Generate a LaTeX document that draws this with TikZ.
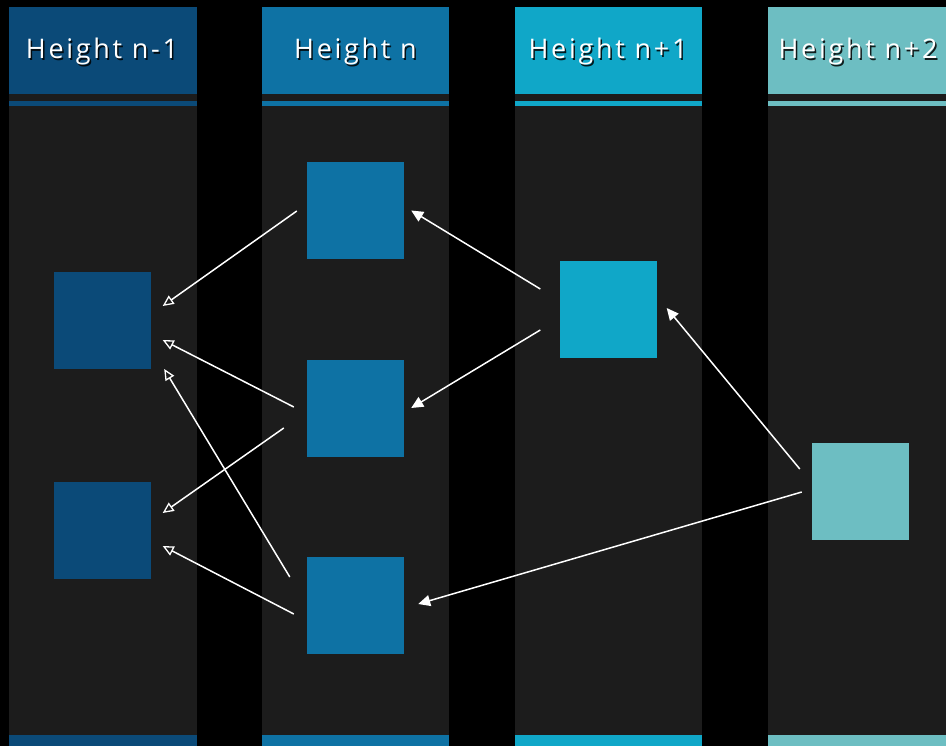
\documentclass[tikz,border=0pt]{standalone}
\usepackage{fontspec}
\setmainfont{Open Sans}
\newfontfamily\headfont[LetterSpace=10]{Open Sans}
\usetikzlibrary{arrows.meta}
\definecolor{bgblack}{HTML}{000000}
\definecolor{lanebody}{HTML}{1C1C1C}
\definecolor{hA}{HTML}{0B4A78}
\definecolor{hB}{HTML}{0E72A4}
\definecolor{hC}{HTML}{10A7C8}
\definecolor{hD}{HTML}{6DBEC2}
\tikzset{
  block/.style={draw=none, minimum width=97pt, minimum height=97pt, inner sep=0pt},
  link/.style={draw=white, line width=1.5pt},
  solidtip/.style={link, -{Triangle[length=12pt, width=11pt]}},
  opentip/.style={link, -{Triangle[open, length=11pt, width=10pt, line width=1.3pt]}},
  title/.style={font=\headfont\fontsize{27}{31}\selectfont, text=white, inner sep=0pt}
}
% one lane: header, stripe, body and foot bar
\newcommand{\lane}[3]{%
  \fill[lanebody] (#1,7) rectangle (#2,746);
  \fill[#3] (#1,7) rectangle (#2,94.5);
  \fill[#3] (#1,101) rectangle (#2,106);
  \fill[#3] (#1,734.5) rectangle (#2,746);
}
\newcommand{\lanetitle}[3]{%
  \node[title, text=black, opacity=0.85] at (#1+1.5,53) {#2};
  \node[title] (#3) at (#1,51.5) {#2};
}
\begin{document}
\begin{tikzpicture}[x=1pt, y=-1pt]
\useasboundingbox (0,0) rectangle (946,746);
\fill[bgblack] (0,0) rectangle (946,746);
\begin{scope}
\clip (0,0) rectangle (946,746);
\lane{9}{197}{hA}
\lane{262}{449}{hB}
\lane{515}{702}{hC}
\lane{768}{956}{hD}
\lanetitle{102}{Height n-1}{t1}
\lanetitle{355.5}{Height n}{t2}
\lanetitle{608}{Height n+1}{t3}
\lanetitle{858}{Height n+2}{t4}
\end{scope}

% blocks per height
\node[block, fill=hA] (a1) at (102.5,320.5) {};
\node[block, fill=hA] (a2) at (102.5,530.5) {};
\node[block, fill=hB] (b1) at (355.5,210.5) {};
\node[block, fill=hB] (b2) at (355.5,408.5) {};
\node[block, fill=hB] (b3) at (355.5,605.5) {};
\node[block, fill=hC] (c1) at (608,309.5) {};
\node[block, fill=hD] (d1) at (860.5,491.5) {};

% link end points, kept clear of the blocks
\coordinate (b1o) at ([shift={(-10,0.5)}]b1.west);
\coordinate (b1i) at ([shift={(7,0)}]b1.east);
\coordinate (b2oa) at ([shift={(-13,-1.5)}]b2.west);
\coordinate (b2ob) at ([shift={(-23,19.5)}]b2.west);
\coordinate (b2i) at ([shift={(7,-0.5)}]b2.east);
\coordinate (b3oa) at ([shift={(-17,-28.5)}]b3.west);
\coordinate (b3ob) at ([shift={(-13,8.5)}]b3.west);
\coordinate (b3i) at ([shift={(14,-1.5)}]b3.east);
\coordinate (a1ia) at ([shift={(11.5,-14.5)}]a1.east);
\coordinate (a1ib) at ([shift={(11.5,19.5)}]a1.east);
\coordinate (a1ic) at ([shift={(13,48.5)}]a1.east);
\coordinate (a2ia) at ([shift={(11.5,-17.5)}]a2.east);
\coordinate (a2ib) at ([shift={(11.5,15.5)}]a2.east);
\coordinate (c1oa) at ([shift={(-19,-20.5)}]c1.west);
\coordinate (c1ob) at ([shift={(-19,20.5)}]c1.west);
\coordinate (c1i) at ([shift={(10,-1.5)}]c1.east);
\coordinate (d1oa) at ([shift={(-12,-22.5)}]d1.west);
\coordinate (d1ob) at ([shift={(-10,0.5)}]d1.west);

% links into height n-1
\draw[opentip] (b1o) -- (a1ia);
\draw[opentip] (b2oa) -- (a1ib);
\draw[opentip] (b3oa) -- (a1ic);
\draw[opentip] (b2ob) -- (a2ia);
\draw[opentip] (b3ob) -- (a2ib);
% links into height n and n+1
\draw[solidtip] (c1oa) -- (b1i);
\draw[solidtip] (c1ob) -- (b2i);
\draw[solidtip] (d1oa) -- (c1i);
\draw[solidtip] (d1ob) -- (b3i);
\end{tikzpicture}
\end{document}
